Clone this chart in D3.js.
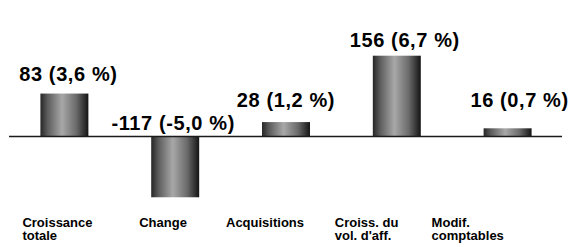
<!DOCTYPE html>
<html>
<head>
<meta charset="utf-8">
<script src="https://cdn.jsdelivr.net/npm/d3@7"></script>
<style>
  body { margin: 0; background: #fff; }
  svg { display: block; font-family: "Liberation Sans", Arial, sans-serif; font-weight: bold; }
</style>
</head>
<body>
<figure style="margin:0"></figure>
<script>
const categories = ["Croissance totale", "Change", "Acquisitions", "Croiss. du vol. d'aff.", "Modif. comptables"];
const tickLines = [["Croissance", "totale"], ["Change"], ["Acquisitions"], ["Croiss. du", "vol. d'aff."], ["Modif.", "comptables"]];
const values = [83, -117, 28, 156, 16];
const valueLabels = ["83 (3,6 %)", "-117 (-5,0 %)", "28 (1,2 %)", "156 (6,7 %)", "16 (0,7 %)"];

// hand placement of the labels, as in the original slide
const labelDx = [4, -2, 0, 8, 12];
const labelGap = [13, 7, 15, 9, 21];
const tickDx = [-18, -12, -36, -38, -52];

const width = 572;
const height = 247;

const svg = d3.select("figure")
  .append("svg")
  .attr("width", width)
  .attr("height", height);

const x = d3.scaleBand()
  .domain(categories)
  .range([9, 563])
  .paddingInner(0.567)
  .paddingOuter(0.2835);

const y = d3.scaleLinear()
  .domain([0, 156])
  .range([136.6, 55.7]);

const grad = svg.append("defs")
  .append("linearGradient")
  .attr("id", "barGrad")
  .attr("x1", "0%").attr("x2", "100%")
  .attr("y1", "0%").attr("y2", "0%");

[[0, "#262626"], [0.15, "#5c5c5c"], [0.45, "#a8a8a8"], [0.75, "#6a6a6a"], [1, "#141414"]]
  .forEach(s => grad.append("stop").attr("offset", s[0]).attr("stop-color", s[1]));

// bars
svg.selectAll("rect.bar")
  .data(values)
  .enter()
  .append("rect")
  .attr("class", "bar")
  .attr("x", (d, i) => x(categories[i]))
  .attr("y", d => y(Math.max(0, d)))
  .attr("width", x.bandwidth())
  .attr("height", d => Math.abs(y(d) - y(0)))
  .attr("fill", "url(#barGrad)");

// zero line
svg.append("line")
  .attr("x1", 9)
  .attr("x2", 562)
  .attr("y1", y(0))
  .attr("y2", y(0))
  .attr("stroke", "#1a1a1a")
  .attr("stroke-width", 1.5);

// value labels
svg.selectAll("text.val")
  .data(values)
  .enter()
  .append("text")
  .attr("class", "val")
  .attr("x", (d, i) => x(categories[i]) + x.bandwidth() / 2 + labelDx[i])
  .attr("y", (d, i) => y(Math.max(0, d)) - labelGap[i])
  .attr("text-anchor", "middle")
  .style("font-size", "20px")
  .style("letter-spacing", "0.6px")
  .attr("fill", "#000")
  .text((d, i) => valueLabels[i]);

// category labels
const ticks = svg.selectAll("text.tick")
  .data(categories)
  .enter()
  .append("text")
  .attr("class", "tick")
  .attr("x", (d, i) => x(d) + tickDx[i])
  .attr("y", 226.5)
  .style("font-size", "13px")
  .attr("fill", "#000");

ticks.each(function(d, i) {
  d3.select(this).selectAll("tspan")
    .data(tickLines[i])
    .enter()
    .append("tspan")
    .attr("x", x(d) + tickDx[i])
    .attr("dy", (t, j) => j === 0 ? 0 : 13)
    .text(t => t);
});
</script>
</body>
</html>
